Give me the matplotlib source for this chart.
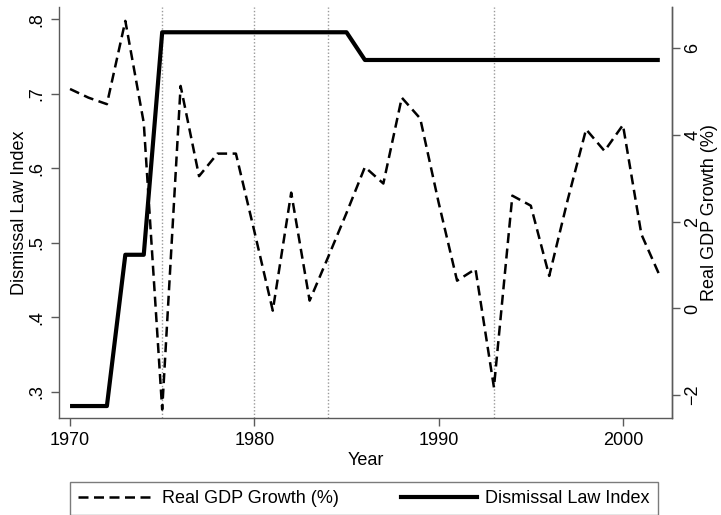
import numpy as np
import matplotlib
matplotlib.use("Agg")
import matplotlib.pyplot as plt
from matplotlib.lines import Line2D

plt.rcParams['font.family'] = ['Liberation Sans', 'DejaVu Sans']

# data
years = list(range(1970, 2003))
dismissal = [0.281, 0.281, 0.281, 0.484, 0.484] + [0.7826] * 11 + [0.7454] * 17
gdp = [5.06, 4.86, 4.71, 6.63, 4.28, -2.33, 5.13, 3.05, 3.57, 3.57,
       1.78, -0.05, 2.67, 0.18, 1.18, 2.2, 3.26, 2.88, 4.86, 4.38,
       2.44, 0.64, 0.91, -1.82, 2.6, 2.37, 0.75, 2.5, 4.13, 3.63,
       4.23, 1.71, 0.75]
reform_years = [1975, 1980, 1984, 1993]

left_ticks = [0.3, 0.4, 0.5, 0.6, 0.7, 0.8]
left_labels = ['.3', '.4', '.5', '.6', '.7', '.8']
right_ticks = [-2, 0, 2, 4, 6]
right_labels = ['\u22122', '0', '2', '4', '6']
x_ticks = [1970, 1980, 1990, 2000]

axis_col = '#5a5a5a'
dash = (0, (4.0, 2.2))

fig = plt.figure(figsize=(7.21, 5.15), dpi=100)
ax = fig.add_axes([0.0818, 0.188, 0.932 - 0.0818, 0.9864 - 0.188])
ax2 = ax.twinx()

for yr in reform_years:
    ax.axvline(yr, color='#999999', linestyle=(0, (1, 1.5)), linewidth=1.0, zorder=1)

ax.plot(years, dismissal, color='black', linewidth=3.0, solid_capstyle='butt', zorder=3)
ax2.plot(years, gdp, color='black', linewidth=1.8, linestyle=dash, zorder=3)

ax.set_xlim(1969.40, 2002.66)
ax.set_ylim(0.2647, 0.8165)
ax2.set_ylim(-2.53, 6.95)

ax.set_xticks(x_ticks)
ax.set_yticks(left_ticks)
ax.set_yticklabels(left_labels, rotation=90, va='center')
ax2.set_yticks(right_ticks)
ax2.set_yticklabels(right_labels, rotation=90, va='center')

for a in (ax, ax2):
    a.spines['top'].set_visible(False)
    for s in ('left', 'right', 'bottom'):
        a.spines[s].set_color(axis_col)
        a.spines[s].set_linewidth(1.0)
    a.tick_params(colors=axis_col, labelcolor='black', labelsize=13, length=6, width=1.0, pad=4)
ax2.tick_params(pad=3)
ax2.spines['left'].set_visible(False)
ax2.spines['bottom'].set_visible(False)

ax.set_xlabel('Year', fontsize=13, labelpad=2)
ax.set_ylabel('Dismissal Law Index', fontsize=13, labelpad=0)
ax2.set_ylabel('Real GDP Growth (%)', fontsize=13, labelpad=0)

handles = [Line2D([], [], color='black', linewidth=1.8, linestyle=dash),
           Line2D([], [], color='black', linewidth=3.0)]
leg = fig.legend(handles, ['Real GDP Growth (%)', 'Dismissal Law Index'],
                 loc='lower left', bbox_to_anchor=(70 / 721, 0 / 515, 588 / 721, 35 / 515),
                 mode='expand', ncol=2, fontsize=13, frameon=True, fancybox=False,
                 borderaxespad=0, handlelength=4.2, borderpad=0.45,
                 columnspacing=2.0, handletextpad=0.45)
leg.get_frame().set_edgecolor(axis_col)
leg.get_frame().set_linewidth(1.0)

fig.savefig('out.png', dpi=100)
